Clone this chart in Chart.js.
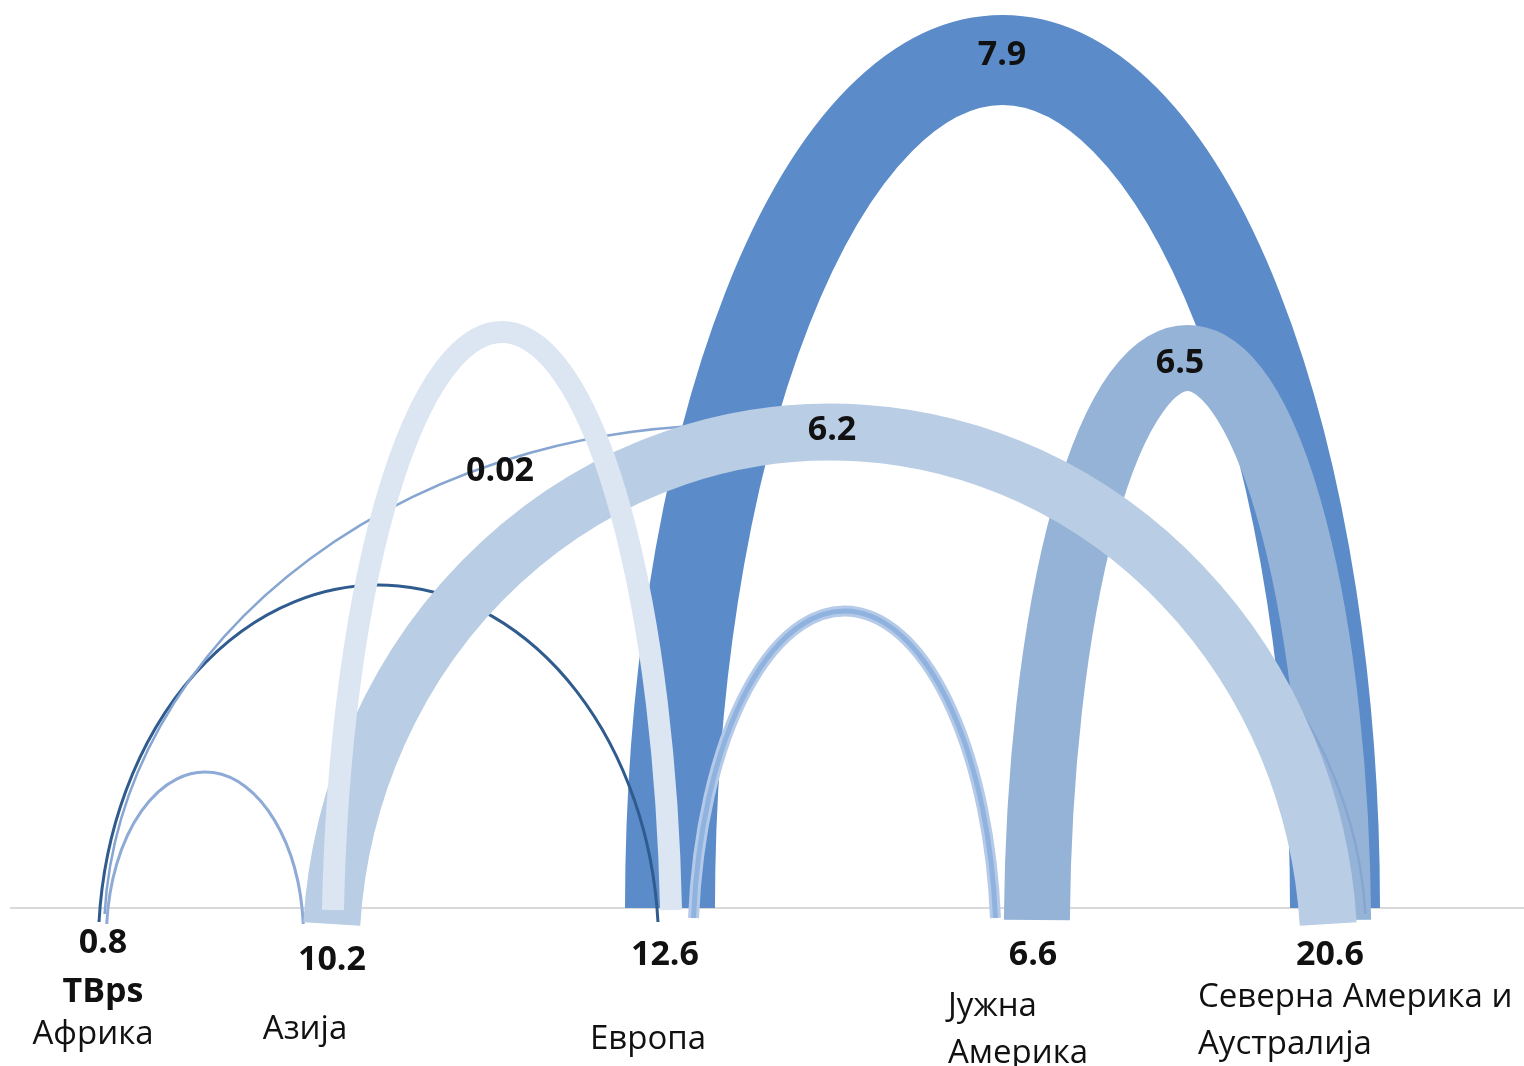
<!DOCTYPE html>
<html>
<head>
<meta charset="utf-8">
<script src="https://cdn.jsdelivr.net/npm/chart.js@4.4.1/dist/chart.umd.min.js"></script>
<style>
  html, body { margin: 0; padding: 0; background: #ffffff; }
  #wrap { width: 1524px; height: 1066px; position: relative; }
</style>
</head>
<body>
<div id="wrap"><canvas id="arcChart"></canvas></div>
<script>
// ---- data -------------------------------------------------------------
const regions = ['Африка', 'Азија', 'Европа', 'Јужна Америка', 'Северна Америка и Аустралија'];
const regionTotals = [0.8, 10.2, 12.6, 6.6, 20.6];   // TBps
const totalsUnit = 'TBps';

// links, listed in drawing order (back to front)
const linkFrom   = [2, 3, 0, 0, 0, 1, 1, 2];
const linkTo     = [4, 4, 2, 4, 1, 4, 2, 3];
const linkValues = [7.9, 6.5, 0.69, 0.02, 0.09, 6.2, 3.91, 0.1];
const linkShown  = [true, true, false, true, false, true, false, false];

// ---- layout / style (axis units: x = px across, y = px above baseline) --
const regionLines = [['Африка'], ['Азија'], ['Европа'], ['Јужна', 'Америка'], ['Северна Америка и', 'Аустралија']];
const totalPos = [[103, -35], [332, -52], [665, -47], [1033, -47], [1330, -47]];
const namePos  = [[93, -127, 'center'], [305, -122, 'center'], [648, -132, 'center'], [948, -99, 'left'], [1198, -90, 'left']];

const linkX1     = [670, 1037, 100, 105, 108, 333, 333, 694];
const linkX2     = [1335, 1338, 657, 1365, 302, 1327, 671, 995];
const linkHeight = [848, 550, 323, 483, 136, 476, 576, 297];
const linkDepth  = [0, 30, 40, 30, 30, 50, 50, 40];     // ellipse centre below baseline
const linkExt    = [0, 12, 14, 6, 16, 16, 2, 10];       // how far ends run under baseline
const linkWidth  = [90, 66, 3, 2.5, 3, 57, 22, 11];
const linkColor  = ['#5b8cc9', '#95b3d7', '#2f5b8e', '#86a6d1', '#8eaad6', '#b9cde5', '#dce6f2', '#b4cae8'];
const linkCore   = [null, null, null, null, null, null, null, '#8fb2de'];
const labelAt    = [[1002, 853], [1180, 545], null, [500, 437], null, [832, 478], null, null];

const FONT = '"Open Sans", "DejaVu Sans", sans-serif';

const arcPlugin = {
    id: 'arcs',
    afterDraw(chart) {
        const ctx = chart.ctx;
        const xs = chart.scales.x, ys = chart.scales.y;
        const px = v => xs.getPixelForValue(v);
        const py = v => ys.getPixelForValue(v);

        ctx.save();
        // baseline
        ctx.strokeStyle = '#d9d9d9';
        ctx.lineWidth = 2;
        ctx.beginPath();
        ctx.moveTo(px(10), py(0));
        ctx.lineTo(px(1524), py(0));
        ctx.stroke();

        // arcs: ellipse through both ends on the baseline and the apex
        linkValues.forEach((v, i) => {
            const cx = px((linkX1[i] + linkX2[i]) / 2);
            const rx = px(linkX2[i]) - cx;
            const d = py(-linkDepth[i]) - py(0);
            const b = py(0) - py(linkHeight[i]) + d;
            const a = rx / Math.sqrt(1 - (d / b) * (d / b));
            const ext = py(-linkExt[i]) - py(0);
            const t = Math.asin((d - ext) / b);
            const path = () => {
                ctx.beginPath();
                ctx.ellipse(cx, py(0) + d, a, b, 0, Math.PI + t, 2 * Math.PI - t);
            };
            ctx.lineCap = 'butt';
            ctx.strokeStyle = linkColor[i];
            ctx.lineWidth = linkWidth[i];
            path();
            ctx.stroke();
            if (linkCore[i]) {
                ctx.strokeStyle = linkCore[i];
                ctx.lineWidth = linkWidth[i] * 0.45;
                path();
                ctx.stroke();
            }
        });

        // arc value labels
        ctx.fillStyle = '#111111';
        ctx.textAlign = 'center';
        ctx.textBaseline = 'middle';
        ctx.font = 'bold 34px ' + FONT;
        linkValues.forEach((v, i) => {
            if (!linkShown[i]) return;
            const pos = labelAt[i] || [(linkX1[i] + linkX2[i]) / 2, linkHeight[i] - 3];
            ctx.fillText(String(v), px(pos[0]), py(pos[1]));
        });

        // region totals and names
        regions.forEach((r, i) => {
            ctx.font = 'bold 34px ' + FONT;
            ctx.textAlign = 'center';
            ctx.fillText(String(regionTotals[i]), px(totalPos[i][0]), py(totalPos[i][1]));
            if (i === 0) ctx.fillText(totalsUnit, px(totalPos[i][0]), py(totalPos[i][1] - 49));
            ctx.font = '33px ' + FONT;
            ctx.textAlign = namePos[i][2];
            regionLines[i].forEach((line, k) => {
                ctx.fillText(line, px(namePos[i][0]), py(namePos[i][1] - k * 47));
            });
        });
        ctx.restore();
    }
};

new Chart(document.getElementById('arcChart'), {
    type: 'scatter',
    data: {
        datasets: [{
            data: regions.map((r, i) => ({ x: totalPos[i][0], y: 0 })),
            pointRadius: 0,
            showLine: false
        }]
    },
    options: {
        responsive: true,
        maintainAspectRatio: false,
        animation: false,
        layout: { padding: 0 },
        plugins: { legend: { display: false }, tooltip: { enabled: false } },
        scales: {
            x: { type: 'linear', min: 0, max: 1524, display: false },
            y: { type: 'linear', min: -158, max: 908, display: false }
        }
    },
    plugins: [arcPlugin]
});
</script>
</body>
</html>
